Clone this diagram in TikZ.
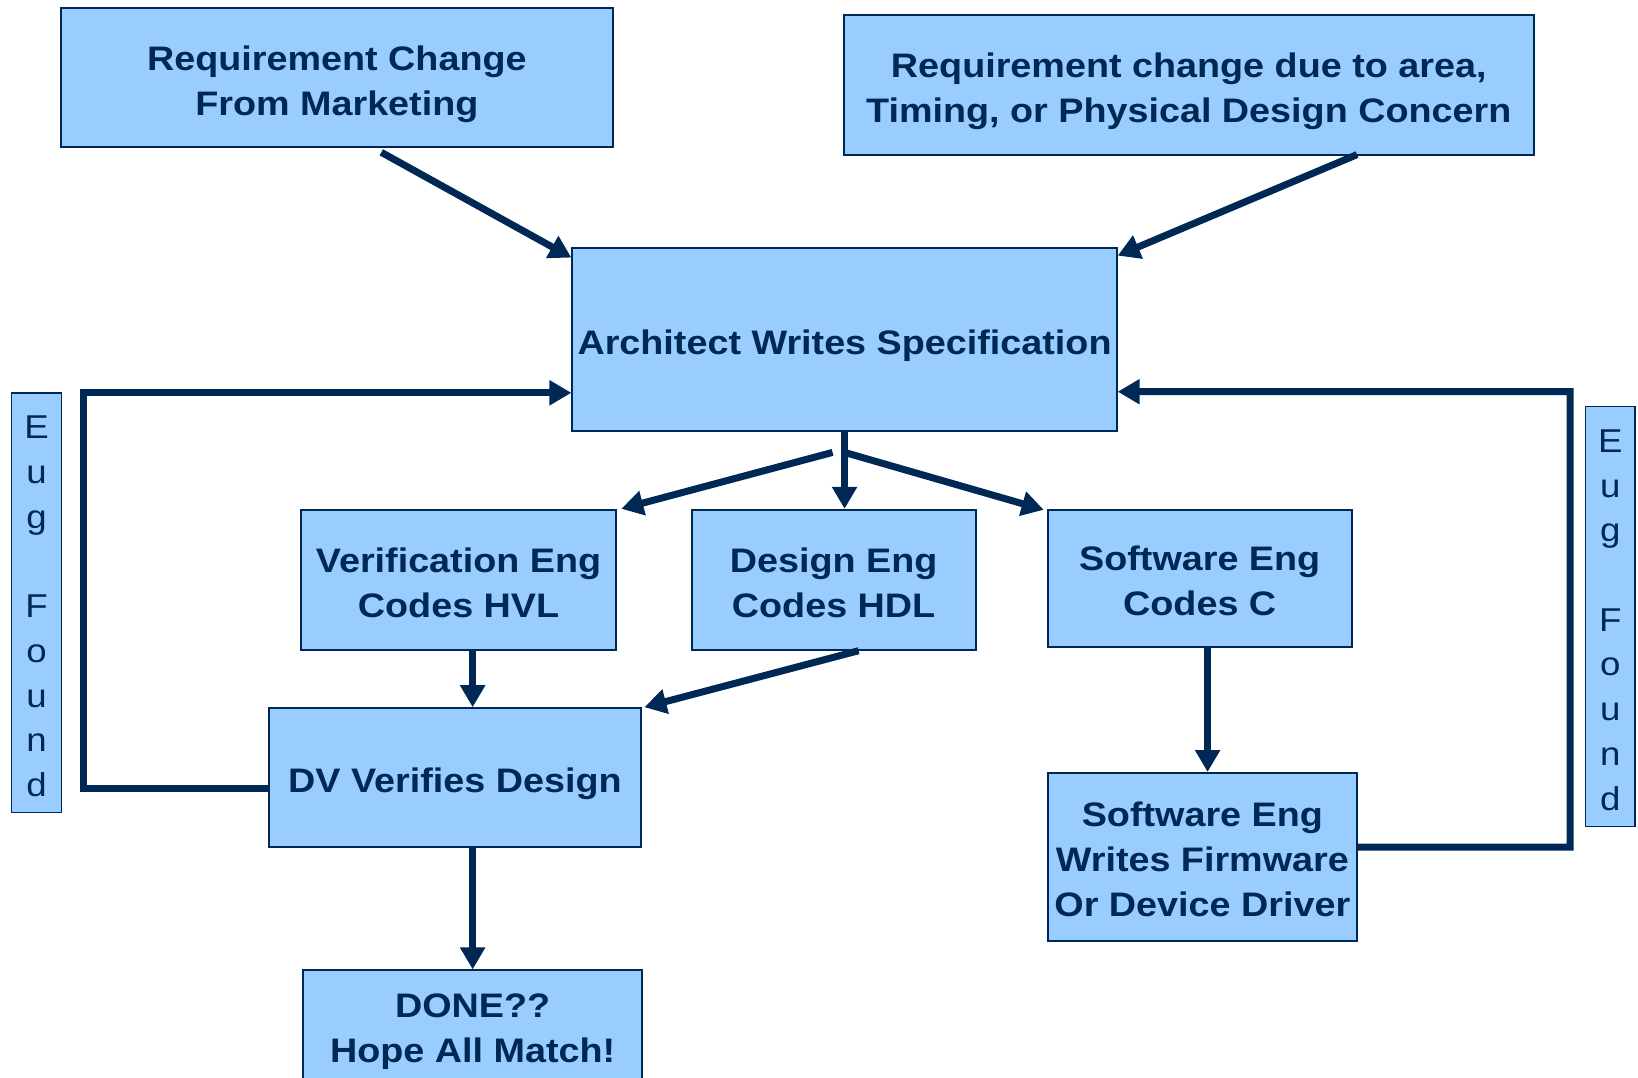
\documentclass[tikz,border=0pt]{standalone}
\usepackage{fontspec}
\setmainfont{Liberation Sans}
\newfontfamily\boxfont[FakeStretch=1.11]{Liberation Sans}
\usetikzlibrary{arrows.meta,calc}
\definecolor{navy}{RGB}{0,40,84}
\definecolor{boxfill}{RGB}{153,204,255}
\newcommand{\tallstrut}{\rule{0pt}{37pt}}
\newcommand{\midstrut}{\rule{0pt}{30pt}}
\newcommand{\bugstrut}{\rule{0pt}{30pt}}
\begin{document}
\begin{tikzpicture}[x=1pt,y=-1pt,
  box/.style={draw=navy, fill=boxfill, line width=2pt, inner sep=0pt, align=center, text=navy,
    font=\boxfont\bfseries\fontsize{34}{45}\selectfont},
  bugbox/.style={draw=navy, fill=boxfill, line width=1.5pt, inner sep=0pt, align=center, text=navy,
    font=\boxfont\fontsize{33}{44.7}\selectfont},
  arr/.style={draw=navy, line width=7pt, line join=miter, -{Triangle[length=22pt,width=24pt]}}]
\useasboundingbox (0,0) rectangle (1638,1077);
\clip (0,0) rectangle (1638,1077);
\fill[white] (0,0) rectangle (1638,1077);

\node[box, minimum width=552.6pt, minimum height=138.9pt] (mkt) at (336.9,77.85) {\tallstrut Requirement Change\\From Marketing};
\node[box, minimum width=689.5pt, minimum height=140pt] (area) at (1188.75,84.6) {\tallstrut Requirement change due to area,\\Timing, or Physical Design Concern};
\node[box, minimum width=544.3pt, minimum height=183.8pt] (arch) at (844.55,339.5) {\tallstrut Architect Writes Specification};
\node[box, minimum width=315.5pt, minimum height=139.9pt] (ver) at (458.55,579.75) {\midstrut Verification Eng\\Codes HVL};
\node[box, minimum width=284.2pt, minimum height=139.9pt] (des) at (833.6,579.75) {\midstrut Design Eng\\Codes HDL};
\node[box, minimum width=304pt, minimum height=136.8pt] (sw) at (1199.7,578.2) {\midstrut Software Eng\\Codes C};
\node[box, minimum width=372.9pt, minimum height=139pt] (dv) at (454.95,777.7) {\tallstrut DV Verifies Design};
\node[box, minimum width=309.3pt, minimum height=168.2pt] (fw) at (1202.35,857.1) {\midstrut Software Eng\\Writes Firmware\\Or Device Driver};
\node[box, minimum width=339.5pt, minimum height=114pt] (done) at (472.65,1027.4) {\rule{0pt}{33pt}DONE??\\Hope All Match!};
\node[bugbox, minimum width=50.1pt, minimum height=419.9pt] (bugL) at (36.55,602.75) {\bugstrut E\\u\\g\\~\\F\\o\\u\\n\\d};
\node[bugbox, minimum width=49.1pt, minimum height=419.9pt] (bugR) at (1610.25,616.35) {\bugstrut E\\u\\g\\~\\F\\o\\u\\n\\d};

% top inputs
\draw[arr] ($(mkt.south)+(44.4,4)$) -- ($(arch.north west)+(0,11)$);
\draw[arr] ($(area.south)+(168.3,-1)$) -- ($(arch.north east)+(0,9)$);

% split
\coordinate (split) at ($(arch.south)+(0,20)$);
\draw[arr] (arch.south) -- (des.north -| arch.south);
\draw[arr] ($(split)+(-12,0)$) -- ($(ver.north east)+(4,0)$);
\draw[arr] (split) -- ($(sw.north west)+(-3,1)$);

% to DV
\draw[arr] (ver.south -| done.north) -- (dv.north -| done.north);
\draw[arr] ($(des.south)+(25,0)$) -- ($(dv.north east)+(2,0)$);
\draw[arr] (dv.south -| done.north) -- (done.north);

% software
\coordinate (swx) at (1207.6,0);
\draw[arr] (sw.south -| swx) -- (fw.north -| swx);

% loops
\coordinate (L1) at (83.6,788.7);
\coordinate (L2) at (83.6,392.8);
\draw[arr] ($(dv.west)+(0,11)$) -- (L1) -- (L2) -- (arch.west |- L2);
\coordinate (R1) at (1570,847.2);
\coordinate (R2) at (1570,391.7);
\draw[arr] ($(fw.east)+(0,-9.9)$) -- (R1) -- (R2) -- (arch.east |- R2);
\end{tikzpicture}
\end{document}
